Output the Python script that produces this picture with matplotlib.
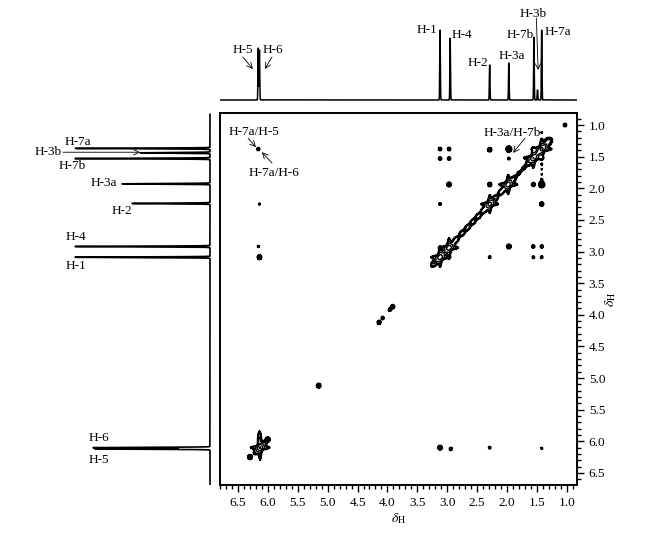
import numpy as np
import matplotlib.pyplot as plt
from matplotlib.ticker import MultipleLocator, FormatStrFormatter

plt.rcParams['font.family'] = ['Liberation Serif', 'DejaVu Serif']
plt.rcParams['mathtext.fontset'] = 'stix'

# 1D projection on top (shift in ppm, height in arbitrary units)
top_shift = [6.16, 6.14, 3.12, 2.95, 2.29, 1.97, 1.55, 1.49, 1.42]
top_height = [52, 50, 70, 62, 35, 37, 63, 10, 70]
top_labels = ['H-5', 'H-6', 'H-1', 'H-4', 'H-2', 'H-3a', 'H-7b', 'H-3b', 'H-7a']
top_label_x = [6.42, 5.91, 3.34, 2.75, 2.49, 1.92, 1.78, 1.57, 1.15]
top_label_y = [50, 50, 70, 65, 37, 44, 65, 86, 68]

# 1D projection on the left
left_shift = [6.12, 6.10, 3.09, 2.92, 2.24, 1.93, 1.53, 1.44, 1.37]
left_height = [115, 117, 135, 135, 78, 88, 135, 70, 135]
left_labels = ['H-5', 'H-6', 'H-1', 'H-4', 'H-2', 'H-3a', 'H-7b', 'H-3b', 'H-7a']
left_label_x = [111, 111, 134, 134, 88, 106, 138, 162, 132]
left_label_y = [6.29, 5.94, 3.23, 2.77, 2.36, 1.92, 1.65, 1.43, 1.27]

# cross peaks (F2 shift, F1 shift, intensity, width)
cross_x = [6.16, 6.14, 6.16, 6.14,
           3.12, 2.97, 3.12, 2.97, 2.29, 1.97, 1.97,
           2.97, 2.29, 1.56, 1.42,
           3.12, 1.42,
           1.97, 1.56, 1.42,
           2.29, 1.56, 1.42,
           3.12, 2.94, 2.29, 1.42,
           1.03, 5.15, 4.14, 4.08, 3.96, 3.91, 6.30, 6.00,
           1.42, 1.42, 1.42, 1.42, 1.42, 1.32]
cross_y = [1.38, 2.25, 2.92, 3.09,
           1.38, 1.38, 1.53, 1.53, 1.39, 1.38, 1.53,
           1.94, 1.94, 1.94, 1.94,
           2.25, 2.25,
           2.92, 2.92, 2.92,
           3.09, 3.09, 3.09,
           6.10, 6.12, 6.10, 6.11,
           1.00, 5.12, 4.12, 4.05, 3.92, 3.87, 6.25, 5.97,
           1.62, 1.70, 1.78, 1.86, 1.12, 1.26]
cross_amp = [0.45, 0.35, 0.35, 0.58,
             0.5, 0.5, 0.5, 0.5, 0.58, 0.58, 0.4,
             0.58, 0.55, 0.55, 0.58,
             0.4, 0.55,
             0.58, 0.45, 0.45,
             0.4, 0.4, 0.4,
             0.58, 0.45, 0.4, 0.35,
             0.45, 0.58, 0.5, 0.45, 0.45, 0.5, 0.58, 0.58,
             0.3, 0.3, 0.3, 0.3, 0.3, 0.9]
cross_size = [0.024, 0.02, 0.02, 0.03,
              0.024, 0.024, 0.024, 0.024, 0.028, 0.038, 0.022,
              0.03, 0.028, 0.026, 0.04,
              0.022, 0.028,
              0.03, 0.024, 0.024,
              0.022, 0.022, 0.022,
              0.03, 0.024, 0.022, 0.02,
              0.026, 0.03, 0.028, 0.024, 0.024, 0.028, 0.03, 0.03,
              0.018, 0.018, 0.018, 0.018, 0.018, 0.035]

# diagonal peaks
diag_x = [3.22, 2.85, 2.75, 2.66, 2.57, 2.48, 2.39, 2.20, 2.10, 1.88,
          1.80, 1.72, 1.64, 1.48, 1.36, 1.30]
diag_y = [3.19, 2.81, 2.71, 2.62, 2.53, 2.44, 2.35, 2.16, 2.06, 1.84,
          1.76, 1.68, 1.60, 1.44, 1.32, 1.26]
diag_amp = [1.0, 0.9, 0.9, 0.9, 0.9, 0.9, 0.9, 0.9, 0.9, 0.45,
            0.4, 0.4, 0.5, 1.5, 1.2, 1.0]

# star-shaped (multiplet) diagonal peaks
star_x = [3.12, 2.97, 2.29, 1.98, 1.56, 1.42, 6.13]
star_y = [3.09, 2.94, 2.25, 1.94, 1.52, 1.38, 6.10]
star_amp = [2.0, 2.0, 1.6, 2.0, 2.2, 2.6, 2.2]

xlim = (6.8, 0.83)
ylim = (6.69, 0.81)


def gauss(X, Y, x0, y0, amp, su, sv, ang):
    c, s = np.cos(ang), np.sin(ang)
    dx, dy = X - x0, Y - y0
    u = c * dx + s * dy
    v = -s * dx + c * dy
    return amp * np.exp(-(u ** 2 / (2 * su ** 2) + v ** 2 / (2 * sv ** 2)))


fig = plt.figure(figsize=(6.68, 5.36), dpi=100)
W, H = 668.0, 536.0

# main 2D axes
ax = fig.add_axes([220 / W, 1 - 485 / H, 357 / W, 372 / H])
gx = np.linspace(0.83, 6.8, 900)
gy = np.linspace(0.81, 6.69, 900)
X, Y = np.meshgrid(gx, gy)
Z = np.zeros_like(X)
for x0, y0, a, sg in zip(cross_x, cross_y, cross_amp, cross_size):
    Z += gauss(X, Y, x0, y0, a, sg, sg, 0)
for x0, y0, a in zip(diag_x, diag_y, diag_amp):
    Z += gauss(X, Y, x0, y0, a, 0.04, 0.026, np.pi / 4)
for x0, y0, a in zip(star_x, star_y, star_amp):
    Z += gauss(X, Y, x0, y0, a, 0.07, 0.03, np.pi / 4)
    Z += gauss(X, Y, x0, y0, a * 0.6, 0.09, 0.018, 0)
    Z += gauss(X, Y, x0, y0, a * 0.6, 0.018, 0.09, 0)
# the olefinic H-5/H-6 diagonal is stretched along F1
Z += gauss(X, Y, 6.14, 5.98, 1.2, 0.018, 0.08, 0)
Z += gauss(X, Y, 6.13, 6.22, 0.45, 0.01, 0.05, 0)

ax.contourf(X, Y, Z, levels=[0.25, 0.6], colors='k')
ax.contour(X, Y, Z, levels=[0.25, 0.6, 1.2, 2.4, 4.8], colors='k',
           linewidths=1.0)

ax.set_xlim(*xlim)
ax.set_ylim(*ylim)
ax.set_xticks(np.arange(1.0, 6.51, 0.5))
ax.set_yticks(np.arange(1.0, 6.51, 0.5))
ax.xaxis.set_minor_locator(MultipleLocator(0.1))
ax.yaxis.set_minor_locator(MultipleLocator(0.1))
ax.xaxis.set_major_formatter(FormatStrFormatter('%.1f'))
ax.yaxis.set_major_formatter(FormatStrFormatter('%.1f'))
ax.yaxis.tick_right()
ax.yaxis.set_label_position('right')
ax.tick_params(which='both', direction='out', top=False, left=False,
               bottom=True, right=True, labelsize=9.5, width=1)
ax.tick_params(which='major', length=5)
ax.tick_params(which='minor', length=3)
for sp in ax.spines.values():
    sp.set_linewidth(1.4)
ax.set_xlabel(r'$\delta_{\rm H}$', fontsize=10, labelpad=2)
ax.set_ylabel(r'$\delta_{\rm H}$', fontsize=10, labelpad=-2)

arrow = dict(arrowstyle='->', lw=0.6, color='k', shrinkA=0, shrinkB=0)
ax.text(6.23, 1.11, 'H-7a/H-5', fontsize=9.5, ha='center', va='center')
ax.annotate('', xy=(6.20, 1.35), xytext=(6.33, 1.21), arrowprops=arrow)
ax.text(5.90, 1.76, 'H-7a/H-6', fontsize=9.5, ha='center', va='center')
ax.annotate('', xy=(6.10, 1.43), xytext=(5.93, 1.60), arrowprops=arrow)
ax.text(1.92, 1.13, 'H-3a/H-7b', fontsize=9.5, ha='center', va='center')
ax.annotate('', xy=(1.90, 1.44), xytext=(1.70, 1.21), arrowprops=arrow)

# top projection (gaussian lines)
ppm = np.linspace(0.83, 6.8, 8000)
w = 0.005
top = np.zeros_like(ppm)
for s0, h in zip(top_shift, top_height):
    top += h * np.exp(-(ppm - s0) ** 2 / (2 * w ** 2))
axt = fig.add_axes([220 / W, 1 - 103 / H, 357 / W, 93 / H])
axt.plot(ppm, top, color='k', lw=1.1)
axt.set_xlim(*xlim)
axt.set_ylim(-3, 90)
axt.axis('off')
for lab, lx, ly in zip(top_labels, top_label_x, top_label_y):
    axt.text(lx, ly, lab, fontsize=9.5, ha='center', va='center')
axt.annotate('', xy=(6.25, 31), xytext=(6.42, 43), arrowprops=arrow)
axt.annotate('', xy=(6.05, 31), xytext=(5.93, 43), arrowprops=arrow)
axt.annotate('', xy=(1.48, 30), xytext=(1.51, 82), arrowprops=arrow)

# left projection
wl = 0.005
left = np.zeros_like(ppm)
for s0, h in zip(left_shift, left_height):
    left += h * np.exp(-(ppm - s0) ** 2 / (2 * wl ** 2))
axl = fig.add_axes([40 / W, 1 - 485 / H, 173 / W, 372 / H])
axl.plot(left, ppm, color='k', lw=1.2)
axl.set_xlim(170, -3)
axl.set_ylim(*ylim)
axl.axis('off')
for lab, lx, ly in zip(left_labels, left_label_x, left_label_y):
    axl.text(lx, ly, lab, fontsize=9.5, ha='center', va='center')
axl.annotate('', xy=(70, 1.43), xytext=(147, 1.43), arrowprops=arrow)

fig.savefig('out.png', dpi=100)
